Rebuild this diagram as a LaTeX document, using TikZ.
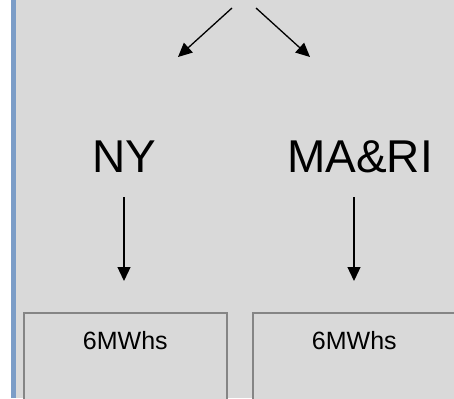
\documentclass[tikz,border=0pt]{standalone}
\usepackage{fontspec}
\setmainfont{Liberation Sans}
\usetikzlibrary{arrows.meta}
\definecolor{panelgrey}{HTML}{D9D9D9}
\definecolor{barblue}{HTML}{7C9DC7}
\definecolor{boxline}{HTML}{858585}
\begin{document}
\begin{tikzpicture}[x=1pt,y=-1pt,
  arr/.style={line width=1.3pt,-{Triangle[length=14pt,width=13pt]}},
  region/.style={font=\fontsize{46}{50}\selectfont},
  store/.style={draw=boxline,line width=1.6pt,fill=panelgrey,inner sep=0pt,
    minimum width=203pt,text height=37pt,text depth=63pt,anchor=north west,
    font=\fontsize{25}{28}\selectfont}]
\useasboundingbox (0,0) rectangle (454,398);
\fill[panelgrey] (16,0) rectangle (454,398); % background
\fill[barblue] (11,0) rectangle (16,398);
% regions
\node[region] (ny) at (124,157) {NY};
\node[region] (mari) at (360,157) {MA\&RI};
% storage boxes
\node[store] (nybox) at (23,312) {6MWhs};
\node[store] (maribox) at (252,312) {6MWhs};
% free ends of the arrows
\coordinate (tl) at (232,8); \coordinate (tlend) at (178,57);
\coordinate (tr) at (256,8); \coordinate (trend) at (310,57);
\foreach \c/\x in {ny/124,mari/354}
{\coordinate (\c top) at (\x,197); \coordinate (\c end) at (\x,281);}
\draw[arr] (tl) -- (tlend);
\draw[arr] (tr) -- (trend);
\foreach \c in {ny,mari}
\draw[arr] (\c top) -- (\c end);
\end{tikzpicture}
\end{document}
